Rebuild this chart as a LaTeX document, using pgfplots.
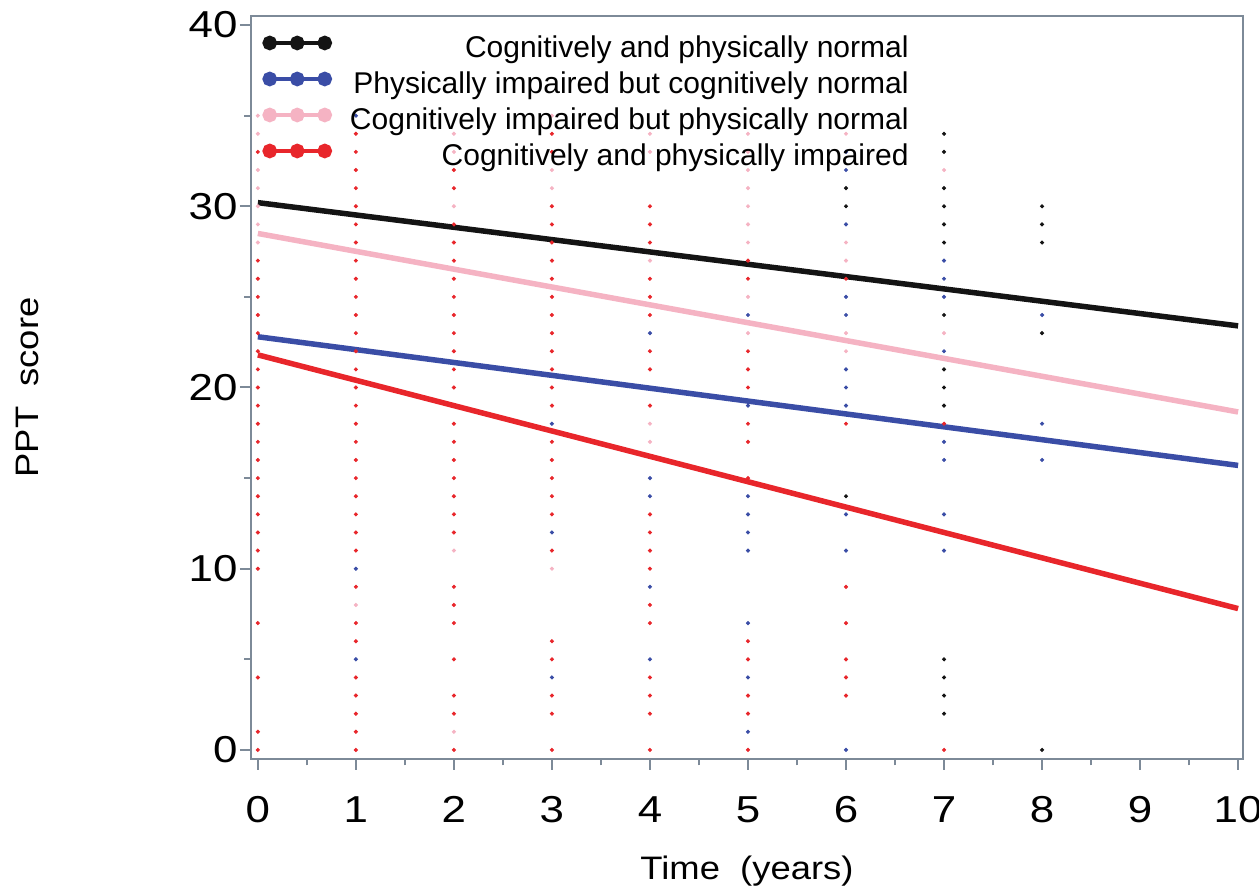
\documentclass[border=0pt]{standalone}
\usepackage{fontspec}
\setmainfont{Liberation Sans}
\newfontfamily\widefont[FakeStretch=1.17]{Liberation Sans}
\newfontfamily\labfont[FakeStretch=1.12]{Liberation Sans}
\usepackage{pgfplots}
\pgfplotsset{compat=1.18}
\definecolor{cblack}{HTML}{141414}
\definecolor{cblue}{HTML}{3A4DA6}
\definecolor{cpink}{HTML}{F5B3C3}
\definecolor{cred}{HTML}{E8262B}
\definecolor{axgray}{HTML}{7D8A98}

\pgfplotstableread{
x y
0 33
0 27
0 26
0 25
0 24
0 23
0 22
0 21
0 20
0 19
0 18
0 17
0 16
0 15
0 14
0 13
0 12
0 11
0 10
0 7
0 4
0 1
0 0
1 34
1 33
1 32
1 31
1 30
1 29
1 28
1 27
1 26
1 25
1 24
1 23
1 22
1 21
1 20
1 19
1 18
1 17
1 16
1 15
1 14
1 13
1 12
1 11
1 9
1 7
1 6
1 4
1 3
1 2
1 1
1 0
2 32
2 31
2 29
2 28
2 27
2 26
2 25
2 24
2 23
2 22
2 21
2 20
2 19
2 18
2 17
2 16
2 15
2 14
2 13
2 12
2 9
2 8
2 7
2 5
2 3
2 2
2 0
3 34
3 33
3 30
3 29
3 28
3 27
3 26
3 25
3 24
3 23
3 22
3 21
3 20
3 19
3 17
3 16
3 15
3 14
3 13
3 11
3 6
3 5
3 3
3 2
3 0
4 30
4 29
4 28
4 26
4 25
4 24
4 22
4 21
4 19
4 13
4 12
4 11
4 10
4 8
4 7
4 4
4 3
4 2
4 0
5 27
5 26
5 22
5 21
5 20
5 18
5 17
5 15
5 6
5 5
5 3
5 2
5 0
6 26
6 18
6 9
6 7
6 5
6 4
6 3
7 18
7 0
}\reddots

\pgfplotstableread{
x y
1 35
1 10
1 5
3 18
3 12
3 4
4 23
4 15
4 14
4 9
4 5
5 24
5 19
5 14
5 13
5 12
5 11
5 7
5 4
5 1
6 33
6 32
6 29
6 25
6 24
6 21
6 20
6 19
6 13
6 11
6 0
7 27
7 26
7 25
7 22
7 17
7 16
7 13
7 11
8 24
8 18
8 16
}\bluedots

\pgfplotstableread{
x y
0 35
0 34
0 32
0 31
0 30
0 29
0 28
1 8
2 34
2 33
2 30
2 11
2 1
3 35
3 32
3 31
3 10
4 34
4 33
4 27
4 18
4 17
5 34
5 33
5 32
5 31
5 30
5 29
5 28
5 25
5 23
6 34
6 28
6 27
6 23
6 22
7 32
7 23
}\pinkdots

\pgfplotstableread{
x y
6 31
6 30
6 14
7 34
7 33
7 31
7 30
7 29
7 28
7 24
7 21
7 20
7 19
7 5
7 4
7 3
7 2
8 30
8 29
8 28
8 23
8 0
}\blackdots

\begin{document}
\begin{tikzpicture}
\path[use as bounding box] (-100.4pt,-54pt) rectangle (403.2pt,303.6pt);
\begin{axis}[
  at={(0pt,0pt)}, anchor=south west,
  scale only axis,
  width=396.8pt, height=297.2pt,
  xmin=-0.07, xmax=10.05,
  ymin=-0.5, ymax=40.5,
  xtick={0,1,...,10},
  ytick={0,10,20,30,40},
  minor x tick num=1,
  minor y tick num=1,
  tick align=outside,
  xtick pos=bottom, ytick pos=left,
  major tick length=4.4pt,
  minor tick length=2.6pt,
  tick style={axgray, line width=0.8pt},
  axis line style={axgray, line width=0.8pt},
  /pgf/number format/assume math mode=true,
  ticklabel style={font=\widefont\fontsize{15}{15}\selectfont},
  xticklabel style={yshift=-7pt},
  yticklabel style={xshift=2.5pt},
  xlabel={Time\ \ (years)},
  ylabel={PPT\ \ score},
  label style={font=\labfont\fontsize{13}{13}\selectfont},
  xlabel style={at={(axis description cs:0.5,0)}, anchor=base, yshift=-48.4pt},
  ylabel style={at={(axis description cs:0,0.5)}, anchor=center, yshift=89.6pt},
  legend cell align=right,
  legend style={draw=none, fill=none,
    at={(axis description cs:0,1)}, anchor=north west,
    xshift=1.4pt, yshift=-4.3pt,
    font=\fontsize{12}{12}\selectfont,
    nodes={inner sep=1pt, text height=9pt, text depth=2.6pt},
    row sep=0.8pt,
    /tikz/every even column/.append style={column sep=0pt}},
  legend image code/.code={
    \draw[#1, line width=1.9pt] (0pt,2.5pt) -- (22pt,2.5pt);
    \fill[#1] (0pt,2.5pt) circle (1.8pt) (11pt,2.5pt) circle (1.8pt) (22pt,2.5pt) circle (1.8pt);
    \path (30pt,2.5pt);
  },
]
\addplot[only marks, mark=*, mark size=0.6pt, color=cred, forget plot] table[x=x,y=y] {\reddots};
\addplot[only marks, mark=*, mark size=0.6pt, color=cblue, forget plot] table[x=x,y=y] {\bluedots};
\addplot[only marks, mark=*, mark size=0.6pt, color=cpink, forget plot] table[x=x,y=y] {\pinkdots};
\addplot[only marks, mark=*, mark size=0.6pt, color=cblack, forget plot] table[x=x,y=y] {\blackdots};

\addplot[cblack, line width=2.2pt] coordinates {(0,30.2) (10,23.4)};
\addlegendentry{Cognitively and physically normal}
\addplot[cblue, line width=2.2pt] coordinates {(0,22.8) (10,15.7)};
\addlegendentry{Physically impaired but cognitively normal}
\addplot[cpink, line width=2.2pt] coordinates {(0,28.5) (10,18.65)};
\addlegendentry{Cognitively impaired but physically normal}
\addplot[cred, line width=2.2pt] coordinates {(0,21.8) (10,7.8)};
\addlegendentry{Cognitively and physically impaired}
\end{axis}
\end{tikzpicture}
\end{document}
